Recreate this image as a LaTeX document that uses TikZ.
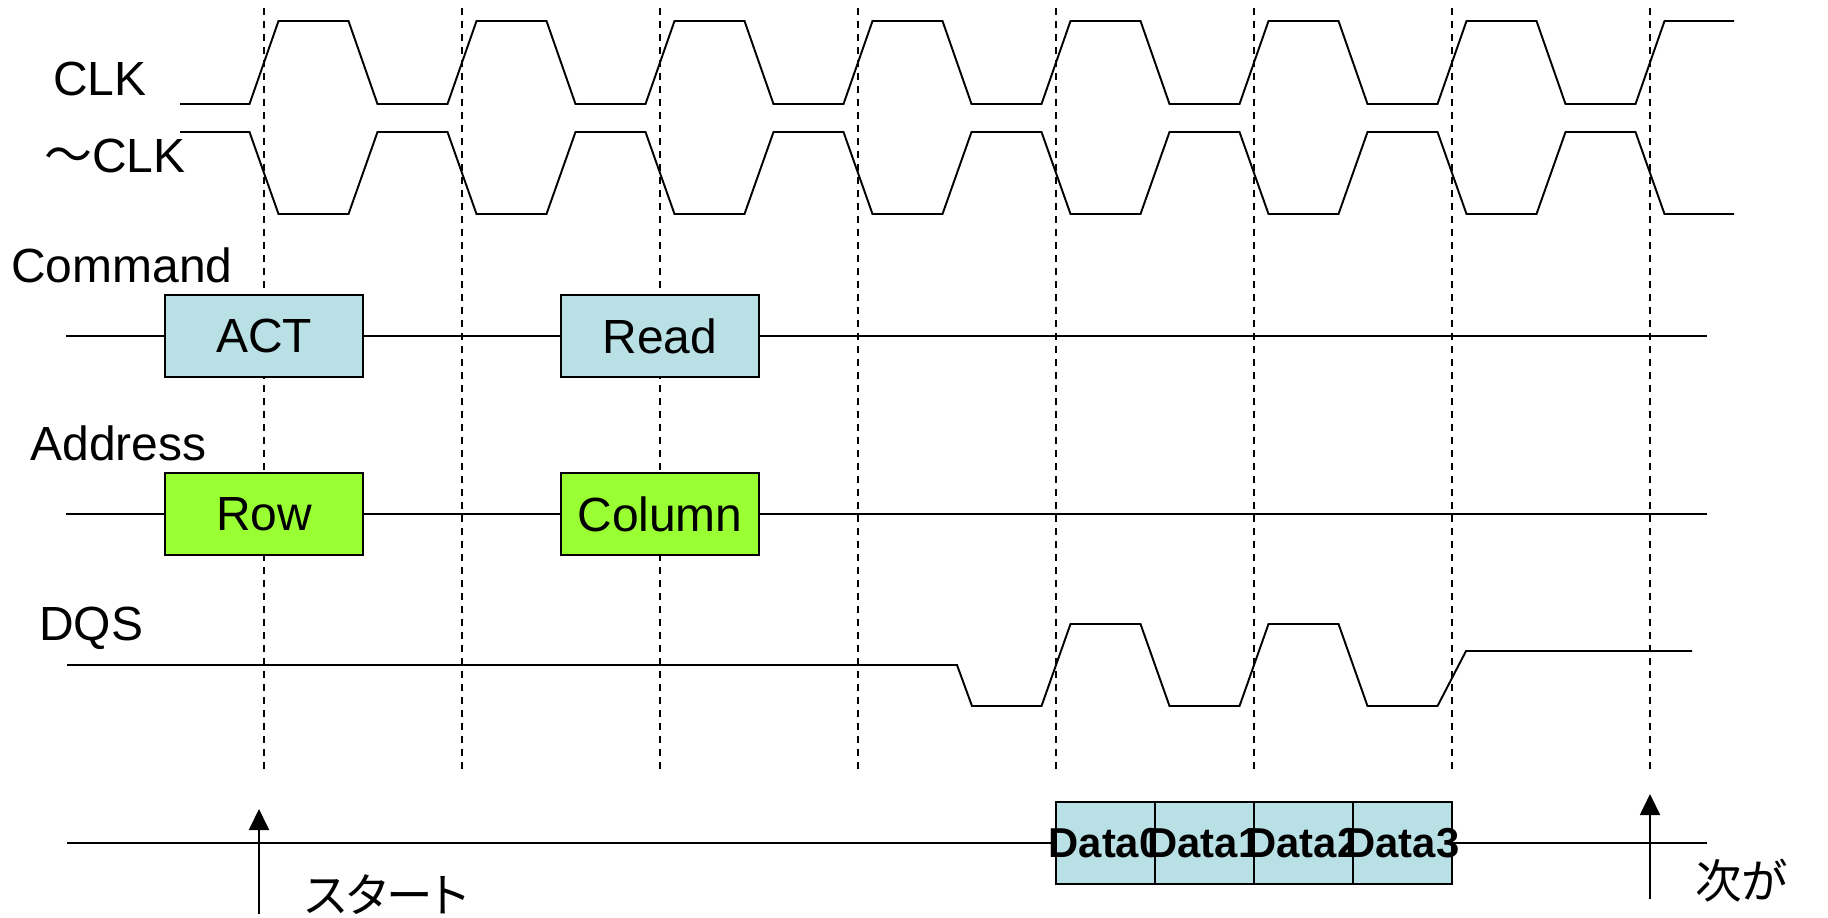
\documentclass[tikz,border=0pt]{standalone}
\usepackage{fontspec}
\setmainfont{Liberation Sans}
\newfontfamily\jpfont[RawFeature=+palt]{Noto Sans CJK JP}
\usepackage{tikz}
\usetikzlibrary{arrows.meta, positioning}
\definecolor{cmdblue}{RGB}{185,224,228}
\definecolor{addrgreen}{RGB}{153,255,51}
\tikzset{
    wave/.style={line width=1.1pt, line join=miter},
    sigline/.style={line width=1.1pt},
    guide/.style={line width=0.9pt, dash pattern=on 4pt off 3.4pt},
    box_cmd/.style={rectangle, draw, line width=1.1pt, fill=cmdblue, minimum width=3.96cm, minimum height=1.64cm, inner sep=0pt, font=\fontsize{27.3}{32}\selectfont},
    box_addr/.style={box_cmd, fill=addrgreen},
    box_data/.style={box_cmd, minimum width=1.98cm, outer sep=0pt, font=\fontsize{23.8}{27}\selectfont\bfseries},
    siglabel/.style={anchor=base west, inner sep=0pt, font=\fontsize{27.3}{32}\selectfont},
    jplabel/.style={anchor=west, inner sep=0pt, font=\jpfont\fontsize{26.5}{32}\selectfont},
    arrow/.style={-{Triangle[length=0.42cm, width=0.4cm]}, line width=1.1pt}
}

\begin{document}
\begin{tikzpicture}[x=0.02cm, y=-0.02cm]
    \useasboundingbox (0,0) rectangle (1828,917);

    % Clock edges
    \foreach \x in {264,462,...,1650}
        \draw [guide] (\x,8) -- (\x,774);

    % Signal names
    \node (clk) [siglabel] at (53,95) {CLK};
    \node (nclk) [siglabel] at (44,172) {{\jpfont ～}CLK};
    \node (cmd) [siglabel] at (11,282) {Command};
    \node (addr) [siglabel] at (30,460) {Address};
    \node (dqs) [siglabel] at (39,640) {DQS};

    % CLK and ~CLK
    \draw [wave] (180,104) \foreach \x in {264,462,...,1452} {
        -- (\x-14.5,104) -- (\x+14.5,21) -- (\x+84.5,21) -- (\x+113.5,104)
    } -- (1635.5,104) -- (1664.5,21) -- (1734,21);
    \draw [wave] (180,132) \foreach \x in {264,462,...,1452} {
        -- (\x-14.5,132) -- (\x+14.5,214) -- (\x+84.5,214) -- (\x+113.5,132)
    } -- (1635.5,132) -- (1664.5,214) -- (1734,214);

    % Commands
    \node (act) [box_cmd] at (264,336) {ACT};
    \node (read) [box_cmd] at (660,336) {Read};
    \coordinate (cmdL) at (66,336);
    \coordinate (cmdR) at (1707,336);
    \draw [sigline] (cmdL) -- (act) -- (read) -- (cmdR);

    % Addresses
    \node (row) [box_addr] at (264,514) {Row};
    \node (col) [box_addr] at (660,514) {Column};
    \coordinate (addrL) at (66,514);
    \coordinate (addrR) at (1707,514);
    \draw [sigline] (addrL) -- (row) -- (col) -- (addrR);

    % DQS
    \draw [wave] (67,665) -- (957,665) -- (972,706) \foreach \x in {1056,1254} {
        -- (\x-14.5,706) -- (\x+14.5,624) -- (\x+84.5,624) -- (\x+113.5,706)
    } -- (1437.5,706) -- (1466,651) -- (1692,651);

    % Data burst
    \node (d0) [box_data] at (1105.5,843) {\makebox[0pt]{Data0}};
    \node (d1) [box_data, right=0pt of d0] {\makebox[0pt]{Data1}};
    \node (d2) [box_data, right=0pt of d1] {\makebox[0pt]{Data2}};
    \node (d3) [box_data, right=0pt of d2] {\makebox[0pt]{Data3}};
    \coordinate (dataL) at (67,843);
    \coordinate (dataR) at (1707,843);
    \draw [sigline] (dataL) -- (d0);
    \draw [sigline] (d3) -- (dataR);

    % Markers
    \coordinate (startfoot) at (259,914);
    \coordinate (starttip) at (259,809);
    \draw [arrow] (startfoot) -- (starttip);
    \node (start) [jplabel] at (304,895) {スタート};

    \coordinate (nextfoot) at (1650,899);
    \coordinate (nexttip) at (1650,794);
    \draw [arrow] (nextfoot) -- (nexttip);
    \node (next) [jplabel] at (1695,881) {次が};
\end{tikzpicture}
\end{document}
